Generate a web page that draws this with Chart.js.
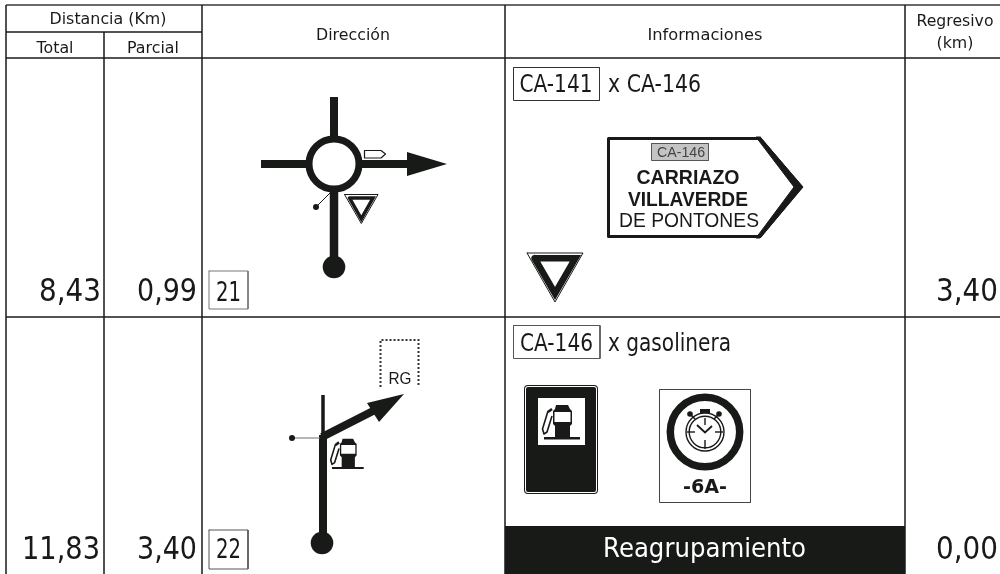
<!DOCTYPE html>
<html><head><meta charset="utf-8">
<script src="https://cdn.jsdelivr.net/npm/chart.js@4"></script>
<style>html,body{margin:0;padding:0;background:#fff;overflow:hidden}canvas{display:block}</style>
</head><body><canvas id="c" width="1000" height="574"></canvas>
<script>
// Roadbook values
const totals = ["8,43", "11,83"];
const partials = ["0,99", "3,40"];
const regressive = ["3,40", "0,00"];
const steps = ["21", "22"];
const roads = ["CA-141", "CA-146"];
const crossings = ["x CA-146", "x gasolinera"];
const headers = ["Distancia (Km)", "Total", "Parcial", "Dirección", "Informaciones", "Regresivo", "(km)"];
const signLines = ["CA-146", "CARRIAZO", "VILLAVERDE", "DE PONTONES"];
const regroup = "Reagrupamiento";

const INK = "#181a18", GREY = "#6e6e6e";
const ds = [];
function pts(a){ return a.map(p => ({x:p[0], y:p[1]})); }
function line(a, width, color, extra){
  ds.push(Object.assign({data:pts(a), showLine:true, pointRadius:0, borderWidth:width, borderColor:color||INK, fill:false, tension:0, borderJoinStyle:"miter", borderCapStyle:"butt"}, extra||{}));
}
function poly(a, fillColor, width, stroke, extra){
  const c = a.concat([a[0]]);
  ds.push(Object.assign({data:pts(c), showLine:true, pointRadius:0, borderWidth:width||0, borderColor:stroke||fillColor, backgroundColor:fillColor, fill:"shape", tension:0, borderJoinStyle:"round", borderCapStyle:"round"}, extra||{}));
}
function rect(x0,y0,x1,y1,fillColor,width,stroke,extra){ poly([[x0,y0],[x1,y0],[x1,y1],[x0,y1]],fillColor,width,stroke,Object.assign({borderJoinStyle:"miter"},extra||{})); }
function dot(x,y,r,fillColor,bw,bc){
  ds.push({data:[{x,y}], showLine:false, pointStyle:"circle", pointRadius:r, pointBackgroundColor:fillColor, pointBorderWidth:bw||0, pointBorderColor:bc||fillColor});
}
function yieldSign(o,band,w){
  poly(o,"#fff",1,INK);
  poly(band,"#fff",w,INK,{borderJoinStyle:"miter"});
}
function pump(ox,oy,s){
  const t = a => a.map(p => [ox+p[0]*s, oy+p[1]*s]);
  poly(t([[12,-32],[24,-32],[26,-28],[28,-26],[28,-13],[26,-11],[26,0],[11,0],[11,-11],[9,-13],[9,-26],[11,-28]]),INK);
  poly(t([[10.5,-25],[26.5,-25],[26.5,-15],[10.5,-15]]),"#fff");
  poly(t([[0,0],[36,0],[36,2.4],[0,2.4]]),INK);
  line(t([[8,-28],[4,-25]]),2.6);
  line(t([[4,-26],[-1.5,-8],[0,-3],[3,-5],[8,-21]]),1.6,INK,{borderJoinStyle:"round"});
}

// grid
const gx = [6,104,202,505,905];
line([[6,5],[1000,5]],1.5,"#3a3a3a");
line([[6,32],[202,32]],1.5);
line([[6,58],[1000,58]],1.5);
line([[6,317],[1000,317]],1.5);
gx.forEach((x,i)=>{ if(i===1){ line([[x,32],[x,574]],1.5);} else line([[x,5],[x,574]],1.5); });

// row 1: direction
line([[334,97],[334,140]],8);
line([[261,164],[310,164]],8);
line([[358,164],[408,164]],8);
poly([[407,152],[447,164],[407,176]],INK);
line([[334,190],[334,262]],8.5);
dot(334,267,11.3,INK);
dot(334,164,25,"#fff",7,INK);
poly([[364.5,150.5],[381,150.5],[385.5,154],[381,158],[364.5,158]],"#fff",1.2,INK);
line([[316,207],[330,193]],1);
dot(316,207,3,INK);
yieldSign([[344.5,194.5],[378,194.5],[361.3,223.5]],[[349.5,198],[373,198],[361.3,218.8]],3.5);
rect(209,271,248,309,"#fff",1,"#777");

// row 1: info
rect(513.5,67.5,599.5,100.5,"#fff",1,"#333");
poly([[608.5,138.5],[760,138.5],[801,187],[760,236.5],[608.5,236.5]],"#fff",3,INK);
poly([[760,137],[803,187],[760,238],[756,238],[794,187],[756,137]],INK,1,INK);
rect(651.5,143.5,708.5,160.5,"#c4c4c4",1,"#555");
yieldSign([[527,253],[583,253],[555,302]],[[534.6,258.25],[575.4,258.25],[555,293.5]],6.5);

// row 2: direction
line([[323,395],[323,437]],3.5);
line([[323,435],[323,538]],8);
dot(322,543,11.3,INK);
line([[322,437],[375,410]],8);
poly([[404,394],[367,403],[379,422]],INK);
line([[292,438],[320,438]],1,GREY);
dot(292,438,3,INK);
line([[380.5,387],[380.5,340],[418.5,340],[418.5,387]],2,"#333",{borderDash:[2,2]});
pump(332,467,0.88);
rect(209,530,248,569,"#fff",1,"#555");

// row 2: info
rect(513.5,325.5,600,358.5,"#fff",1,"#555");
const gasSign = [[528,389],[594,389],[594,490],[528,490]];
poly(gasSign,INK,8,INK);
poly(gasSign,"#fff",6,"#fff");
poly(gasSign,INK,4,INK);
rect(538,398,585,445,"#fff");
pump(544,437,1);
rect(659.5,389.5,750.5,502.5,"#fff",1,"#444");
dot(705,432,34.7,"#fff",7.5,INK);
dot(705,432,19,"#fff",1.4,INK);
dot(705,432,15.8,"#fff",1.4,INK);
rect(700,409,710,413,INK);
line([[690,414],[695,419]],1.6); line([[719,414],[714,419]],1.6);
dot(690,414,2.8,INK); dot(719,414,2.8,INK);
line([[705,418],[705,425]],1.4); line([[705,440],[705,449]],1.4);
line([[687,432],[695,432]],1.4); line([[715,432],[723,432]],1.4);
line([[697,425],[705,432.5],[712,426]],1.8);
rect(505,526,905,574,INK);

ds.forEach((d,i)=>{ d.order = -i; d.clip = false; });

const SANS = '"DejaVu Sans"', ARIAL = '"Liberation Sans"';
const texts = [
  {t:headers[0], x:108, y:24, s:16.5, w:117},
  {t:headers[1], x:55, y:53, s:16.5, w:37},
  {t:headers[2], x:153, y:53, s:16.5, w:52},
  {t:headers[3], x:353, y:40, s:16.5, w:74},
  {t:headers[4], x:705, y:40, s:16.5, w:115},
  {t:headers[5], x:955, y:26, s:16.5, w:77},
  {t:headers[6], x:955, y:48, s:16.5, w:37},
  {t:totals[0], x:70, y:301, s:31.5, w:62},
  {t:partials[0], x:167, y:301, s:31.5, w:60},
  {t:steps[0], x:228.5, y:300.5, s:26, w:25},
  {t:regressive[0], x:967, y:301, s:31.5, w:62},
  {t:totals[1], x:61, y:559, s:31.5, w:78},
  {t:partials[1], x:167, y:559, s:31.5, w:60},
  {t:steps[1], x:228.5, y:558, s:26, w:25},
  {t:regressive[1], x:967, y:559, s:31.5, w:62},
  {t:roads[0], x:556, y:92, s:24, w:73},
  {t:crossings[0], x:654.5, y:92, s:24, w:93},
  {t:roads[1], x:556.5, y:351, s:24, w:73},
  {t:crossings[1], x:669.5, y:351, s:24, w:123},
  {t:signLines[0], x:681, y:157, s:15, f:ARIAL, c:"#444", w:48},
  {t:signLines[1], x:688, y:184, s:19.5, f:ARIAL, b:1, w:103},
  {t:signLines[2], x:688, y:206, s:19.5, f:ARIAL, b:1, w:120},
  {t:signLines[3], x:689, y:227, s:19.8, f:ARIAL, w:140},
  {t:"RG", x:400, y:384, s:16, f:ARIAL, w:23},
  {t:"-6A-", x:705, y:493, s:19.5, b:1, w:44},
  {t:regroup, x:704.5, y:557, s:26.5, c:"#fff", w:203}
];

const textPlugin = {
  id:"roadbookText",
  afterDatasetsDraw(chart){
    const {ctx, scales:{x:sx, y:sy}} = chart;
    ctx.save();
    ctx.textAlign = "center"; ctx.textBaseline = "alphabetic";
    texts.forEach(o=>{
      ctx.font = (o.b?"bold ":"") + o.s + "px " + (o.f||SANS);
      ctx.fillStyle = o.c || INK;
      const px = sx.getPixelForValue(o.x), py = sy.getPixelForValue(o.y);
      const k = o.w ? o.w/ctx.measureText(o.t).width : 1;
      ctx.save(); ctx.translate(px,py); ctx.scale(k,1);
      ctx.fillText(o.t,0,0);
      ctx.restore();
    });
    ctx.restore();
  }
};

new Chart(document.getElementById("c"),{
  type:"scatter",
  data:{datasets:ds},
  options:{
    responsive:false, animation:false, events:[],
    layout:{padding:0, autoPadding:false},
    plugins:{legend:{display:false},tooltip:{enabled:false},title:{display:false}},
    scales:{
      x:{type:"linear",min:0,max:1000,display:false},
      y:{type:"linear",min:0,max:574,reverse:true,display:false}
    }
  },
  plugins:[textPlugin]
});
</script></body></html>
